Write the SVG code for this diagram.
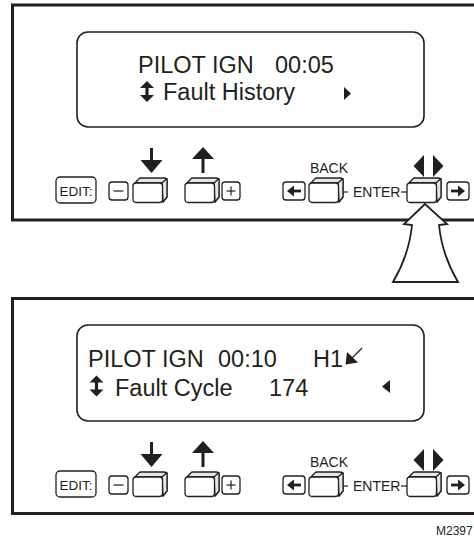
<svg xmlns="http://www.w3.org/2000/svg" xmlns:xlink="http://www.w3.org/1999/xlink" width="474" height="540" viewBox="0 0 474 540">
<style>
.panel{fill:#fff;stroke:#231f20;stroke-width:3}
.lcd{fill:#fff;stroke:#231f20;stroke-width:1.6}
.btn{fill:#fff;stroke:#231f20;stroke-width:1.3}
.side{fill:#e6e6e6;stroke:#231f20;stroke-width:1.3;stroke-linejoin:round}
.ink{fill:#231f20}
.ln{stroke:#231f20;stroke-width:1.2;fill:none}
.big{font-family:"Liberation Sans",Arial,sans-serif;font-size:23.5px;fill:#231f20}
.sm{font-family:"Liberation Sans",Arial,sans-serif;font-size:14px;fill:#231f20}
.xs{font-family:"Liberation Sans",Arial,sans-serif;font-size:13.5px;fill:#231f20}
</style>
<defs>
<g id="key">
<path class="side" d="M2,5 L5.5,1.2 Q6.5,0 8,0 L31,0 Q34,0 34,3 L34,19 L30,24 L29,5 Z"/>
<path class="side" d="M29,5 L34,0.5 L34,19 L30,24 Z" />
<path class="ln" d="M2,5 L29,5"/>
<rect class="btn" x="0" y="5" width="29.5" height="19.5" rx="3"/>
</g>
<g id="updown">
<polygon class="ink" points="-7,7 0,0 7,7"/>
<rect class="ink" x="-1.6" y="6" width="3.2" height="9"/>
<polygon class="ink" points="-7,14 0,21 7,14"/>
</g>
<g id="controls">
<rect class="btn" x="56" y="177" width="40" height="26" rx="4"/>
<text class="xs" x="76" y="195.5" text-anchor="middle">EDIT:</text>
<rect class="btn" x="109" y="182" width="19" height="18" rx="3"/>
<line class="ln" x1="113.5" y1="191" x2="123.5" y2="191" stroke-width="1.4"/>
<use xlink:href="#key" x="133" y="178"/>
<rect class="ink" x="150" y="148" width="3" height="14"/>
<polygon class="ink" points="140.5,160 162.5,160 151.5,173"/>
<use xlink:href="#key" x="185" y="178"/>
<rect class="ink" x="201.5" y="157" width="3" height="16"/>
<polygon class="ink" points="192,159 214,159 203,147"/>
<rect class="btn" x="222" y="182" width="18" height="18" rx="3"/>
<line class="ln" x1="226.5" y1="191" x2="235.5" y2="191" stroke-width="1.3"/>
<line class="ln" x1="231" y1="186.5" x2="231" y2="195.5" stroke-width="1.3"/>
<rect class="btn" x="283" y="182" width="22" height="18" rx="3"/>
<polygon class="ink" points="287,191 294,185.5 294,196.5"/>
<rect class="ink" x="293" y="189.6" width="8" height="2.8"/>
<text class="sm" x="329" y="173" text-anchor="middle">BACK</text>
<use xlink:href="#key" x="309" y="178"/>
<line class="ln" x1="343" y1="192" x2="348" y2="192"/>
<text class="sm" x="353" y="196.5">ENTER</text>
<line class="ln" x1="401" y1="192" x2="407" y2="192"/>
<use xlink:href="#key" x="407" y="178"/>
<polygon class="ink" points="424,155 413.5,166 424,177"/>
<polygon class="ink" points="433,155 443.5,166 433,177"/>
<rect class="btn" x="447" y="182" width="22" height="18" rx="3"/>
<polygon class="ink" points="465,191 458,185.5 458,196.5"/>
<rect class="ink" x="451" y="189.6" width="8" height="2.8"/>
</g>
</defs>
<rect width="474" height="540" fill="#fff"/>
<g id="panel-top">
<rect class="panel" x="12.5" y="5" width="470" height="215"/>
<rect class="lcd" x="77" y="32" width="347" height="95" rx="11"/>
<text class="big" x="138" y="73">PILOT IGN</text>
<text class="big" x="275" y="73">00:05</text>
<use xlink:href="#updown" x="147" y="81"/>
<text class="big" x="163" y="100">Fault History</text>
<polygon class="ink" points="344,87 351,93.5 344,100"/>
<use xlink:href="#controls"/>
</g>
<g id="panel-bottom">
<rect class="panel" x="12.5" y="298.5" width="470" height="215"/>
<rect class="lcd" x="77" y="325" width="347" height="96" rx="11"/>
<text class="big" x="88" y="367">PILOT IGN</text>
<text class="big" x="218" y="367">00:10</text>
<text class="big" x="313" y="367">H1</text>
<polygon class="ink" points="345.5,364.5 347,352 358,362.5"/>
<line class="ln" x1="351" y1="359" x2="362" y2="348" stroke-width="2"/>
<use xlink:href="#updown" x="96.5" y="375.5"/>
<text class="big" x="115" y="396">Fault Cycle</text>
<text class="big" x="269" y="396">174</text>
<polygon class="ink" points="390,380 382,386.5 390,393"/>
<use xlink:href="#controls" transform="translate(0,294)"/>
</g>
<g id="connectors">
<path d="M425,204 L404,224 L412,225 Q409,255 393,282 L458,282 Q442,255 439,225 L447,224 Z" fill="#fff" stroke="#231f20" stroke-width="1.8" stroke-linejoin="miter"/>
</g>
<text class="xs" x="436" y="535" font-size="12" style="font-size:12px">M2397</text>
</svg>
